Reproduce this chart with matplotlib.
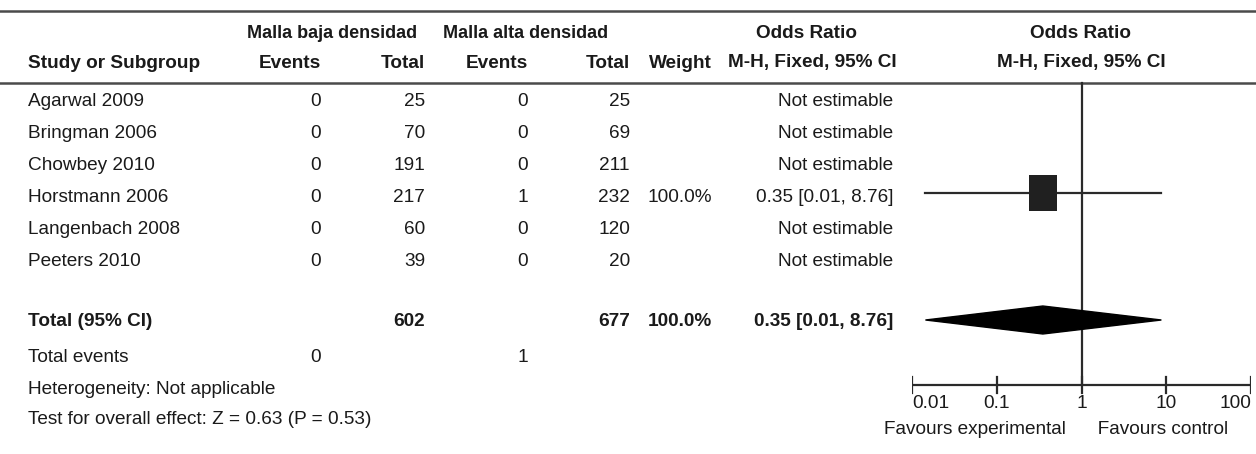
import matplotlib
matplotlib.use("Agg")
import matplotlib.pyplot as plt
from matplotlib.patches import Polygon
from matplotlib.path import Path

# ---------------- data ----------------
studies = ["Agarwal 2009", "Bringman 2006", "Chowbey 2010", "Horstmann 2006",
           "Langenbach 2008", "Peeters 2010"]
events_low = [0, 0, 0, 0, 0, 0]
total_low = [25, 70, 191, 217, 60, 39]
events_high = [0, 0, 0, 1, 0, 0]
total_high = [25, 69, 211, 232, 120, 20]
weights = ["", "", "", "100.0%", "", ""]
or_labels = ["Not estimable", "Not estimable", "Not estimable",
             "0.35 [0.01, 8.76]", "Not estimable", "Not estimable"]
or_est = [None, None, None, 0.35, None, None]
or_lo = [None, None, None, 0.0144, None, None]
or_hi = [None, None, None, 8.76, None, None]

pooled_total_low = 602
pooled_total_high = 677
pooled_weight = "100.0%"
pooled_label = "0.35 [0.01, 8.76]"
pooled_est, pooled_lo, pooled_hi = 0.35, 0.0144, 8.76
total_events_low = 0
total_events_high = 1

xticks = [0.01, 0.1, 1, 10, 100]
xtick_labels = ["0.01", "0.1", "1", "10", "100"]

# ---------------- layout (pixels) ----------------
W, H = 1256, 454
FAM = ["Liberation Sans", "DejaVu Sans"]
FS = 13.7
TXT = "#1a1a1a"
LINE = "#2a2a2a"

fig = plt.figure(figsize=(W / 100, H / 100), dpi=100)
fig.patch.set_facecolor("white")
ax = fig.add_axes([0, 0, 1, 1])
ax.set_xlim(0, W)
ax.set_ylim(H, 0)
ax.axis("off")

x_label = 28
x_ev1, x_tot1, x_ev2, x_tot2, x_w, x_or = 321, 425, 528, 630, 712, 893
forest_l, forest_r = 912, 1251

y_top_line, y_h1, y_h2, y_hline = 11, 34, 63, 83
row_y = [101, 133, 165, 197, 229, 261]
y_total, y_tevents, y_het, y_test = 321, 357, 389, 420
y_axis = 385
mark_dy = -4


def t(x, y, s, ha="left", bold=False, size=FS):
    ax.text(x, y, s, ha=ha, va="center", fontsize=size, family=FAM,
            fontweight="bold" if bold else "normal", color=TXT)


# rules
ax.plot([0, W], [y_top_line, y_top_line], color="#4a4a4a", lw=1.8)
ax.plot([0, W], [y_hline, y_hline], color="#4a4a4a", lw=1.8)

# headers
t(332, y_h1, "Malla baja densidad", ha="center", bold=True, size=13)
t(526, y_h1, "Malla alta densidad", ha="center", bold=True, size=13)
t(806, y_h1, "Odds Ratio", ha="center", bold=True)
t(1080, y_h1, "Odds Ratio", ha="center", bold=True)
t(x_label, y_h2, "Study or Subgroup", bold=True)
t(x_ev1, y_h2, "Events", ha="right", bold=True)
t(x_tot1, y_h2, "Total", ha="right", bold=True)
t(x_ev2, y_h2, "Events", ha="right", bold=True)
t(x_tot2, y_h2, "Total", ha="right", bold=True)
t(x_w, y_h2, "Weight", ha="right", bold=True)
t(812, y_h2, "M-H, Fixed, 95% CI", ha="center", bold=True)
t(1081, y_h2, "M-H, Fixed, 95% CI", ha="center", bold=True)

# study rows
for i, y in enumerate(row_y):
    t(x_label, y, studies[i])
    t(x_ev1, y, str(events_low[i]), ha="right")
    t(x_tot1, y, str(total_low[i]), ha="right")
    t(x_ev2, y, str(events_high[i]), ha="right")
    t(x_tot2, y, str(total_high[i]), ha="right")
    if weights[i]:
        t(x_w, y, weights[i], ha="right")
    t(x_or, y, or_labels[i], ha="right")

# totals
t(x_label, y_total, "Total (95% CI)", bold=True)
t(x_tot1, y_total, str(pooled_total_low), ha="right", bold=True)
t(x_tot2, y_total, str(pooled_total_high), ha="right", bold=True)
t(x_w, y_total, pooled_weight, ha="right", bold=True)
t(x_or, y_total, pooled_label, ha="right", bold=True)
t(x_label, y_tevents, "Total events")
t(x_ev1, y_tevents, str(total_events_low), ha="right")
t(x_ev2, y_tevents, str(total_events_high), ha="right")
t(x_label, y_het, "Heterogeneity: Not applicable")
t(x_label, y_test, "Test for overall effect: Z = 0.63 (P = 0.53)")

# ---------------- forest axes ----------------
fx = fig.add_axes([forest_l / W, 0, (forest_r - forest_l) / W, 1])
fx.set_xscale("log")
fx.set_xlim(xticks[0], xticks[-1])
fx.set_ylim(H, 0)
fx.axis("off")
fx.patch.set_alpha(0)

fx.plot([1, 1], [y_hline, y_axis], color=LINE, lw=1.6)

# slightly tall square marker (reference image is vertically stretched)
box = Path([(-0.78, -1), (0.78, -1), (0.78, 1), (-0.78, 1), (-0.78, -1)],
           [Path.MOVETO, Path.LINETO, Path.LINETO, Path.LINETO, Path.CLOSEPOLY])
for i, y in enumerate(row_y):
    if or_est[i] is not None:
        ym = y + mark_dy
        fx.plot([or_lo[i], or_hi[i]], [ym, ym], color=LINE, lw=1.6, zorder=2)
        fx.plot(or_est[i], ym, marker=box, ms=26, color="#202020",
                mec="#202020", mew=0, zorder=3)

dia = Polygon([(pooled_lo, y_total - 1), (pooled_est, y_total - 15),
               (pooled_hi, y_total - 1), (pooled_est, y_total + 13)],
              closed=True, facecolor="black", edgecolor="black", zorder=3)
fx.add_patch(dia)

fx.plot([xticks[0], xticks[-1]], [y_axis, y_axis], color=LINE, lw=1.6)
for k, v in enumerate(xticks):
    fx.plot([v, v], [y_axis - 8, y_axis + 8], color=LINE, lw=1.6)
    ha = "left" if k == 0 else ("right" if k == len(xticks) - 1 else "center")
    fx.text(v, y_axis + 19, xtick_labels[k], ha=ha, va="center",
            fontsize=FS, family=FAM, color=TXT)
fx.text(1, y_axis + 45, "Favours experimental   ", ha="right", va="center",
        fontsize=FS, family=FAM, color=TXT)
fx.text(1, y_axis + 45, "   Favours control", ha="left", va="center",
        fontsize=FS, family=FAM, color=TXT)

fig.savefig("out.png", dpi=100, facecolor="white")
